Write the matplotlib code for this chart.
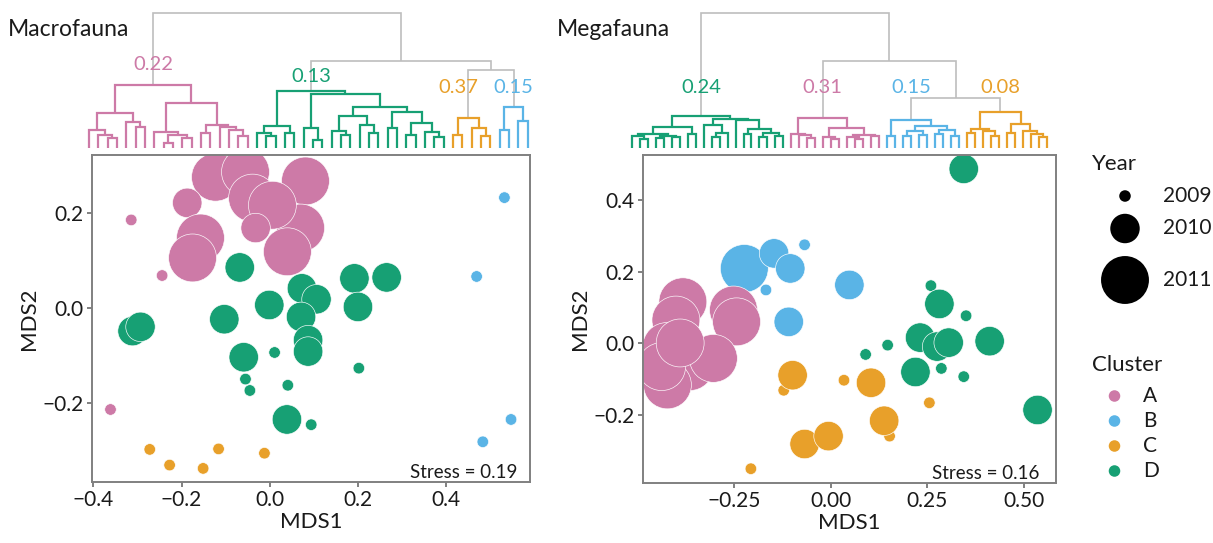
import matplotlib
matplotlib.use("Agg")
import matplotlib.pyplot as plt

plt.rcParams['font.family'] = ['Lato', 'DejaVu Sans']

# ------------------------------------------------------------------ data
clusters = ["A", "B", "C", "D"]
years = [2009, 2010, 2011]

# Macrofauna NMDS scores
macro_cluster = (["A"] * 14) + (["D"] * 21) + (["B"] * 4) + (["C"] * 5)
macro_year = [2011, 2011, 2011, 2011, 2011, 2011, 2011, 2010, 2010, 2011, 2011, 2009, 2009, 2009,
              2010, 2010, 2010, 2010, 2010, 2010, 2010, 2010, 2010, 2010, 2010, 2010, 2010, 2010,
              2009, 2009, 2009, 2009, 2009, 2010, 2009,
              2009, 2009, 2009, 2009,
              2009, 2009, 2009, 2009, 2009]
macro_x = [-0.123, -0.055, -0.039, 0.081, 0.070, 0.040, 0.006, -0.032, -0.187, -0.157, -0.175, -0.314, -0.244, -0.361,
           -0.068, -0.311, -0.293, -0.103, -0.001, 0.073, 0.106, 0.071, 0.192, 0.265, 0.200, 0.087, 0.087, -0.059,
           0.011, -0.055, -0.045, 0.041, 0.202, 0.039, 0.094,
           0.532, 0.469, 0.547, 0.483,
           -0.272, -0.227, -0.151, -0.116, -0.012]
macro_y = [0.276, 0.287, 0.232, 0.268, 0.169, 0.119, 0.217, 0.169, 0.222, 0.148, 0.106, 0.186, 0.069, -0.213,
           0.086, -0.048, -0.039, -0.023, 0.007, 0.042, 0.019, -0.018, 0.063, 0.065, 0.003, -0.067, -0.091, -0.103,
           -0.093, -0.149, -0.173, -0.162, -0.126, -0.234, -0.245,
           0.233, 0.067, -0.234, -0.281,
           -0.297, -0.330, -0.337, -0.296, -0.305]
macro_stress = 0.19

# Megafauna NMDS scores
mega_cluster = (["D"] * 14) + (["B"] * 7) + (["C"] * 10) + (["A"] * 10)
mega_year = [2010, 2009, 2010, 2009, 2010, 2010, 2010, 2010, 2009, 2009, 2010, 2009, 2009, 2010,
             2011, 2010, 2010, 2009, 2009, 2010, 2010,
             2009, 2010, 2009, 2010, 2009, 2010, 2010, 2010, 2009, 2009,
             2011, 2011, 2011, 2011, 2011, 2011, 2011, 2011, 2011, 2011]
mega_x = [0.344, 0.259, 0.281, 0.350, 0.231, 0.275, 0.305, 0.411, 0.147, 0.090, 0.219, 0.286, 0.344, 0.535,
          -0.224, -0.147, -0.105, -0.068, -0.168, 0.048, -0.109,
          -0.122, -0.099, 0.034, 0.104, 0.152, 0.138, -0.068, -0.006, 0.255, -0.207,
          -0.383, -0.252, -0.244, -0.401, -0.425, -0.365, -0.304, -0.423, -0.438, -0.390]
mega_y = [0.487, 0.161, 0.110, 0.077, 0.016, -0.009, 0.002, 0.006, -0.005, -0.031, -0.080, -0.070, -0.093, -0.186,
          0.209, 0.251, 0.209, 0.275, 0.149, 0.163, 0.060,
          -0.131, -0.089, -0.103, -0.110, -0.259, -0.216, -0.281, -0.259, -0.166, -0.350,
          0.116, 0.093, 0.060, 0.065, -0.009, -0.065, -0.042, -0.116, -0.065, 0.001]
mega_stress = 0.16

# Dendrograms: node = [merge height, left, right], leaf = 0
L = 0
macro_trees = {
    "A": [0.63,
          [0.353, [0.18, L, [0.13, L, [0.097, L, L]]], [0.263, L, [0.207, L, L]]],
          [0.447, [0.163, L, [0.13, [0.053, L, L], [0.097, L, L]]],
                  [0.23, [0.147, L, L], [0.207, L, [0.18, L, [0.12, L, L]]]]]],
    "D": [0.573,
          [0.22, [0.147, L, [0.12, L, L]], [0.147, L, L]],
          [0.537, [0.197, L, [0.08, L, L]],
                  [0.407, [0.32, [0.173, L, [0.13, L, L]], [0.23, L, [0.147, L, L]]],
                          [0.363, [0.203, L, L], [0.247, [0.13, L, L], [0.16, L, [0.11, L, L]]]]]]],
    "C": [0.297, [0.13, L, L], [0.197, L, [0.123, L, L]]],
    "B": [0.413, [0.18, L, L], [0.27, L, L]],
}
macro_top = [1.347, "A", [0.87, "D", [0.78, "C", "B"]]]
macro_labels = {"A": "0.22", "D": "0.13", "C": "0.37", "B": "0.15"}

mega_trees = {
    "D": [0.32,
          [0.213, [0.147, [0.12, L, [0.09, L, L]], [0.123, [0.10, L, L], [0.11, L, L]]], [0.14, L, L]],
          [0.297, [0.233, L, [0.15, [0.11, L, L], L]],
                  [0.28, L, [0.19, [0.14, L, L], [0.15, [0.11, L, L], [0.12, L, L]]]]]],
    "A": [0.307,
          [0.147, L, [0.13, L, [0.10, L, L]]],
          [0.207, [0.11, L, [0.09, L, L]], [0.13, [0.11, L, [0.09, L, L]], [0.12, L, L]]]],
    "B": [0.28, [0.123, L, L],
          [0.22, [0.17, [0.12, L, L], [0.13, L, L]], [0.18, [0.14, L, L], [0.12, L, L]]]],
    "C": [0.36,
          [0.197, [0.157, L, L], [0.17, L, [0.12, L, L]]],
          [0.247, [0.157, L, L], [0.17, L, [0.14, L, [0.11, L, L]]]]],
}
mega_top = [1.347, "D", [0.873, "A", [0.503, "B", "C"]]]
mega_labels = {"D": "0.24", "A": "0.31", "B": "0.15", "C": "0.08"}

# ------------------------------------------------------------------ style
W, H = 1213, 543
colors = {"A": "#CD7AA7", "B": "#5AB4E6", "C": "#E8A02A", "D": "#17A074"}
year_size = {2009: 69, 2010: 450, 2011: 1190}
GRAY = "#BEBEBE"
FRAME = "#808080"
TXT = "#1A1A1A"

fig = plt.figure(figsize=(W / 100, H / 100), dpi=100)


def px_box(l, t, r, b):
    return [l / W, 1 - b / H, (r - l) / W, (b - t) / H]


def count_leaves(node):
    if isinstance(node, int):
        return 1
    return count_leaves(node[1]) + count_leaves(node[2])


def draw_sub(ax, node, color, counter, lw):
    if isinstance(node, int):
        x = counter[0]
        counter[0] += 1
        return x, 0.0
    h, left, right = node
    xl, hl = draw_sub(ax, left, color, counter, lw)
    xr, hr = draw_sub(ax, right, color, counter, lw)
    ax.plot([xl, xl, xr, xr], [hl, h, h, hr], color=color, lw=lw,
            solid_capstyle='butt', solid_joinstyle='miter', clip_on=False)
    return (xl + xr) / 2, h


def draw_top(ax, node, trees, counter, roots):
    if isinstance(node, str):
        x, h = draw_sub(ax, trees[node], colors[node], counter, 1.6)
        roots[node] = (x, h)
        return x, h
    h, left, right = node
    xl, hl = draw_top(ax, left, trees, counter, roots)
    xr, hr = draw_top(ax, right, trees, counter, roots)
    ax.plot([xl, xl, xr, xr], [hl, h, h, hr], color=GRAY, lw=1.2,
            solid_capstyle='butt', solid_joinstyle='miter', clip_on=False, zorder=1)
    return (xl + xr) / 2, h


def dendrogram(box, top, trees, labels, label_h, nudge):
    ax = fig.add_axes(px_box(*box))
    n = sum(count_leaves(t) for t in trees.values())
    ax.set_xlim(0, n - 1)
    ax.set_ylim(0, top[0])
    ax.axis('off')
    roots = {}
    draw_top(ax, top, trees, [0], roots)
    for c, (x, h) in roots.items():
        ax.text(x + nudge.get(c, 0), label_h[c], labels[c], color=colors[c],
                ha='center', va='center', fontsize=14.5)
    return ax


dendrogram((89, 13.3, 527.7, 148), macro_top, macro_trees, macro_labels,
           {"A": 0.83, "D": 0.713, "C": 0.607, "B": 0.607}, {"C": -1.1})
dendrogram((631.7, 13.3, 1047, 148.3), mega_top, mega_trees, mega_labels,
           {"D": 0.607, "A": 0.607, "B": 0.607, "C": 0.607}, {})


def scatter_panel(box, xs, ys, cl, yr, xlim, ylim, xticks, xtl, yticks, ytl, stress, off):
    ax = fig.add_axes(px_box(*box))
    ax.scatter(xs, ys, s=[year_size[v] for v in yr], c=[colors[c] for c in cl],
               edgecolors='white', linewidths=0.45, zorder=2)
    ax.set_xlim(*xlim)
    ax.set_ylim(*ylim)
    ax.set_xticks(xticks)
    ax.set_xticklabels(xtl)
    ax.set_yticks(yticks)
    ax.set_yticklabels(ytl)
    for sp in ax.spines.values():
        sp.set_color(FRAME)
        sp.set_linewidth(1.4)
    ax.tick_params(direction='out', length=3.6, width=1.4, color=FRAME,
                   labelsize=15, labelcolor=TXT, pad=2.5)
    ax.set_xlabel("MDS1", fontsize=16, color=TXT, labelpad=1)
    ax.set_ylabel("MDS2", fontsize=16, color=TXT, labelpad=2)
    ax.annotate(f"Stress = {stress:.2f}", xy=(1, 0), xycoords='axes fraction',
                xytext=off, textcoords='offset pixels', ha='right', va='baseline',
                fontsize=13.5, color=TXT)
    return ax


def fmt(v, d):
    s = f"{abs(v):.{d}f}"
    return ("\u2212" + s) if v < 0 else s


mx_t = [-0.4, -0.2, 0.0, 0.2, 0.4]
my_t = [-0.2, 0.0, 0.2]
gx_t = [-0.25, 0.0, 0.25, 0.5]
gy_t = [-0.2, 0.0, 0.2, 0.4]

scatter_panel((91.7, 155, 530, 481.7), macro_x, macro_y, macro_cluster, macro_year,
              (-0.4036, 0.59), (-0.365, 0.3227),
              mx_t, [fmt(v, 1) for v in mx_t], my_t, [fmt(v, 1) for v in my_t],
              macro_stress, (-13, 4))
scatter_panel((642.7, 154.7, 1055.7, 482.7), mega_x, mega_y, mega_cluster, mega_year,
              (-0.487, 0.582), (-0.389, 0.5265),
              gx_t, [fmt(v, 2) for v in gx_t], gy_t, [fmt(v, 1) for v in gy_t],
              mega_stress, (-16, 4))

# titles
fig.text(8 / W, 1 - 30 / H, "Macrofauna", fontsize=16.5, color=TXT, va='center', ha='left')
fig.text(557 / W, 1 - 30 / H, "Megafauna", fontsize=16.5, color=TXT, va='center', ha='left')

# legends (drawn in a pixel-coordinate overlay)
ov = fig.add_axes([0, 0, 1, 1], zorder=10)
ov.set_xlim(0, W)
ov.set_ylim(H, 0)
ov.axis('off')
ov.text(1092, 164, "Year", fontsize=16, color=TXT, va='center', ha='left')
year_rows = [196, 228.5, 280]
for yv, yy in zip(years, year_rows):
    ov.scatter([1125], [yy], s=year_size[yv], c='black', edgecolors='none')
    ov.text(1163, yy, str(yv), fontsize=15, color=TXT, va='center', ha='left')
ov.text(1092, 365, "Cluster", fontsize=16, color=TXT, va='center', ha='left')
cl_rows = [396, 421, 446, 471]
for c, yy in zip(clusters, cl_rows):
    ov.scatter([1114.5], [yy], s=year_size[2009], c=colors[c], edgecolors='none')
    ov.text(1143, yy, c, fontsize=15, color=TXT, va='center', ha='left')

fig.savefig("out.png", dpi=100)
